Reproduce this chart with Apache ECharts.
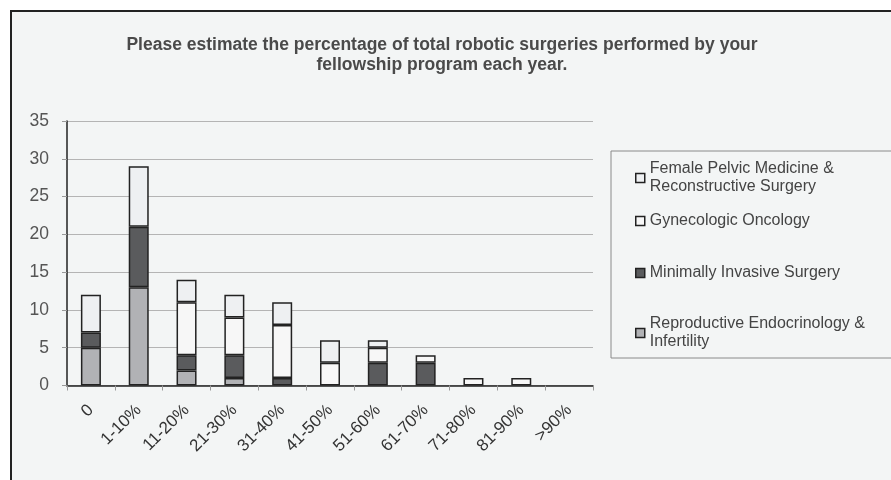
<!DOCTYPE html>
<html>
<head>
<meta charset="utf-8">
<script src="https://cdn.jsdelivr.net/npm/echarts@6/dist/echarts.min.js"></script>
<style>
    body { margin: 0; background: #fff; }
    #panel { position: absolute; left: 10px; top: 10px; right: 0; bottom: 0; background: #f3f5f5; border-top: 2px solid #222; border-left: 2px solid #222; }
    #chart { position: absolute; left: 0; top: 0; width: 891px; height: 480px; }
</style>
</head>
<body>
<div id="panel"></div>
<div id="chart"></div>
<script>
// survey answer buckets
let categories = ['0', '1-10%', '11-20%', '21-30%', '31-40%', '41-50%', '51-60%', '61-70%', '71-80%', '81-90%', '>90%']

// counts per fellowship type
let reiValues = [5, 13, 2, 1, 0, 0, 0, 0, 0, 0, 0]
let misValues = [2, 8, 2, 3, 1, 0, 3, 3, 0, 0, 0]
let gynOncValues = [0, 0, 7, 5, 7, 3, 2, 1, 1, 1, 0]
let fpmrsValues = [5, 8, 3, 3, 3, 3, 1, 0, 0, 0, 0]

let seriesNames = ['Reproductive Endocrinology &\nInfertility', 'Minimally Invasive Surgery', 'Gynecologic Oncology', 'Female Pelvic Medicine &\nReconstructive Surgery']
let seriesColors = ['#b1b2b5', '#5a5b5d', '#f7f7f7', '#eef0f2']

let yTicks = [0, 5, 10, 15, 20, 25, 30, 35]

let font = "'Liberation Sans', Arial, sans-serif"

// zero segments are not drawn
function noZero(arr) {
    return arr.map(function(v) { return v === 0 ? null : v })
}

let allValues = [reiValues, misValues, gynOncValues, fpmrsValues]

let series = allValues.map(function(vals, i) {
    return {
        name: seriesNames[i],
        type: 'bar',
        stack: 'total',
        barWidth: 20,
        data: noZero(vals),
        itemStyle: {
            color: seriesColors[i],
            borderColor: '#222',
            borderWidth: 1.5
        }
    }
})

// one legend per entry so each row sits where the reference has it
let legendTops = [151, 212, 264, 306]
let legendOrder = [3, 2, 1, 0]
let legends = legendOrder.map(function(si, k) {
    let multi = seriesNames[si].indexOf('\n') !== -1
    return {
        data: [seriesNames[si]],
        left: 635,
        top: legendTops[k],
        orient: 'vertical',
        padding: 0,
        icon: 'rect',
        itemWidth: 9,
        itemHeight: 9,
        selectedMode: false,
        itemStyle: { borderColor: '#222', borderWidth: 1.5 },
        textStyle: {
            fontFamily: font,
            fontSize: 16,
            color: '#444',
            lineHeight: 18,
            padding: multi ? [18, 0, 0, 0] : 0
        }
    }
})

let chart = echarts.init(document.getElementById('chart'))

let option = {
    animation: false,
    title: {
        text: 'Please estimate the percentage of total robotic surgeries performed by your\nfellowship program each year.',
        left: 437,
        top: 30,
        textAlign: 'center',
        textStyle: {
            fontFamily: font,
            fontSize: 17.5,
            fontWeight: 'bold',
            color: '#4a4a4a',
            lineHeight: 20
        }
    },
    legend: legends,
    grid: {
        left: 67,
        right: 298,
        top: 121,
        bottom: 94.5
    },
    xAxis: {
        type: 'category',
        data: categories,
        axisLine: { lineStyle: { color: '#222', width: 1.5 } },
        axisTick: { show: true, length: 5, lineStyle: { color: '#999' } },
        axisLabel: {
            rotate: 45,
            interval: 0,
            margin: 22,
            fontFamily: font,
            fontSize: 17,
            color: '#333'
        }
    },
    yAxis: {
        type: 'value',
        min: yTicks[0],
        max: yTicks[yTicks.length - 1],
        interval: 5,
        axisLine: { show: true, lineStyle: { color: '#222', width: 1.5 } },
        axisTick: { show: true, length: 5, lineStyle: { color: '#999' } },
        splitLine: { lineStyle: { color: '#b4b4b4', width: 1.2 } },
        axisLabel: {
            margin: 18,
            fontFamily: font,
            fontSize: 17.5,
            color: '#555'
        }
    },
    graphic: [{
        type: 'rect',
        shape: { x: 611, y: 151, width: 300, height: 207 },
        style: { fill: 'none', stroke: '#8a8a8a', lineWidth: 1 },
        silent: true
    }],
    series: series
}

chart.setOption(option)
</script>
</body>
</html>
